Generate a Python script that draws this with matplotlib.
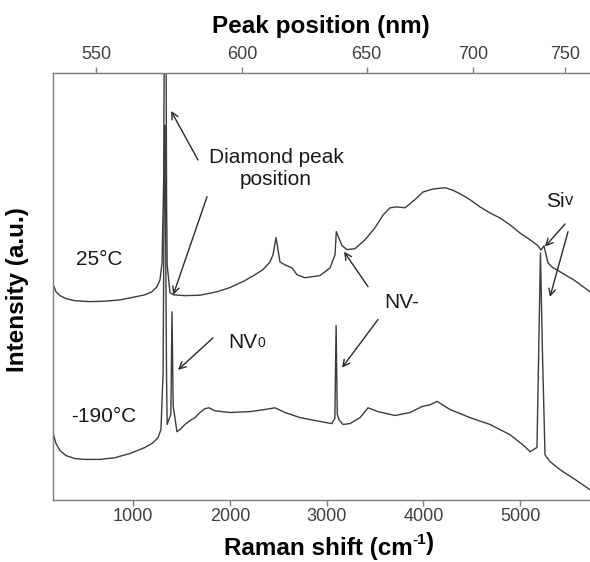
import matplotlib
matplotlib.use("Agg")
import matplotlib.pyplot as plt

plt.rcParams["font.family"] = ["Liberation Sans", "DejaVu Sans"]

LASER_NM = 532.0

# Raman spectrum at 25 °C (shift in cm-1, intensity in a.u.)
shift_25 = [172, 182, 203, 244, 306, 399, 554, 709, 864, 1019, 1123, 1195,
            1247, 1278, 1299, 1316, 1322, 1340, 1346, 1352, 1381, 1415, 1536,
            1691, 1867, 2001, 2136, 2260, 2342, 2415, 2446, 2477, 2518, 2570,
            2642, 2694, 2777, 2931, 3035, 3087, 3100, 3159, 3210, 3293, 3397,
            3500, 3583, 3655, 3727, 3810, 3913, 3996, 4099, 4223, 4296, 4378,
            4482, 4585, 4688, 4792, 4895, 4998, 5102, 5185, 5215, 5246, 5288,
            5330, 5412, 5567, 5722]
int_25 = [50.5, 49.9, 48.7, 47.8, 47.1, 46.6, 46.4, 46.5, 46.8, 47.5, 48.0,
          48.7, 49.9, 51.5, 55.5, 75.0, 110.0, 110.0, 70.0, 55.0, 48.5, 48.0,
          47.8, 47.9, 48.7, 49.7, 51.1, 52.7, 53.9, 55.7, 57.4, 61.4, 55.7,
          55.0, 54.3, 52.7, 52.0, 52.5, 54.3, 57.4, 62.8, 59.5, 58.6, 58.8,
          60.9, 63.7, 66.7, 68.4, 68.6, 68.4, 70.3, 72.1, 72.8, 73.1, 72.6,
          71.7, 70.3, 68.6, 67.2, 66.0, 64.4, 62.5, 60.9, 59.5, 58.5, 59.5,
          55.5, 54.5, 53.4, 51.3, 48.7]

# Raman spectrum at -190 °C
shift_m190 = [172, 182, 203, 244, 306, 399, 503, 658, 813, 968, 1123, 1205,
              1257, 1288, 1310, 1320, 1327, 1334, 1345, 1352, 1390, 1402, 1414,
              1453, 1484, 1536, 1588, 1640, 1691, 1743, 1784, 1846, 2001, 2208,
              2363, 2466, 2570, 2725, 2931, 3055, 3085, 3098, 3110, 3128, 3169,
              3241, 3345, 3428, 3531, 3707, 3862, 3986, 4068, 4141, 4275, 4482,
              4688, 4895, 5050, 5102, 5174, 5192, 5210, 5230, 5257, 5308, 5412,
              5567, 5722]
int_m190 = [15.8, 14.8, 13.1, 11.5, 10.3, 9.6, 9.4, 9.4, 9.8, 10.8, 12.2, 13.3,
            14.5, 16.4, 30.0, 70.0, 87.8, 70.0, 30.0, 17.6, 20.0, 44.0, 22.0,
            15.9, 16.4, 17.6, 18.5, 19.2, 20.4, 21.3, 21.5, 20.8, 20.4, 20.6,
            21.1, 21.5, 20.4, 19.2, 18.3, 17.8, 19.0, 40.8, 20.0, 18.7, 17.6,
            17.8, 19.2, 21.5, 20.6, 19.7, 20.4, 21.8, 22.2, 23.0, 21.1, 19.2,
            17.6, 15.2, 12.4, 11.2, 12.2, 35.0, 57.8, 35.0, 10.5, 8.9, 7.0,
            4.7, 2.3]

shift_ticks = [1000, 2000, 3000, 4000, 5000]
nm_ticks = [550, 600, 650, 700, 750]


def shift_to_nm(s):
    return 1e7 / (1e7 / LASER_NM - s)


def nm_to_shift(nm):
    return 1e7 / LASER_NM - 1e7 / nm


LINE = "#3c3c3c"
SPINE = "#7f7f7f"
TICKTXT = "#404040"

fig = plt.figure(figsize=(5.9, 5.62), dpi=100)
ax = fig.add_axes([53 / 590, 62.5 / 562, 537 / 590, 426.5 / 562])

ax.plot(shift_25, int_25, color=LINE, lw=1.0)
ax.plot(shift_m190, int_m190, color=LINE, lw=1.0)

ax.set_xlim(172, 5722)
ax.set_ylim(0, 100)
ax.set_yticks([])
ax.set_xticks(shift_ticks)
ax.set_xticklabels([str(t) for t in shift_ticks])
ax.tick_params(axis="x", direction="out", length=4, width=1, color=SPINE,
               labelsize=13, labelcolor=TICKTXT, pad=2)
for side in ("left", "bottom", "top"):
    ax.spines[side].set_color(SPINE)
    ax.spines[side].set_linewidth(1.0)
ax.spines["right"].set_visible(False)

# wavelength scale for the 532 nm excitation line
top = ax.secondary_xaxis("top", functions=(shift_to_nm, nm_to_shift))
top.set_xticks(nm_ticks)
top.set_xticklabels([str(t) for t in nm_ticks])
top.tick_params(direction="out", length=4, width=1, color=SPINE,
                labelsize=13, labelcolor=TICKTXT, pad=3)
top.spines["top"].set_color(SPINE)

TITLE = dict(fontsize=17.5, fontweight="bold", color="black")
fig.text(321 / 590, 1 - 27 / 562, "Peak position (nm)", ha="center",
         va="center", **TITLE)
t_x = fig.text(318 / 590, 1 - 548 / 562, "Raman shift (cm", ha="center",
               va="center", **TITLE)
sup = fig.add_artist(plt.Annotation(
    "-1", xy=(1, 0.55), xycoords=t_x, ha="left", va="bottom", fontsize=11,
    fontweight="bold", color="black", annotation_clip=False))
fig.add_artist(plt.Annotation(
    ")", xy=(1, -0.55), xycoords=sup, ha="left", va="bottom",
    annotation_clip=False, **TITLE))
fig.text(18 / 590, 1 - 290 / 562, "Intensity (a.u.)", ha="center",
         va="center", rotation=90, **TITLE)

TXT = dict(fontsize=15, color="#1a1a1a")
ax.text(647, 56.2, "25°C", ha="center", va="center", **TXT)
ax.text(699, 19.4, "-190°C", ha="center", va="center", **TXT)
ax.text(2477, 77.6, "Diamond peak\nposition", ha="center", va="center",
        linespacing=1.25, **TXT)
ax.text(3774, 46.1, "NV-", ha="center", va="center", **TXT)
t_nv = ax.text(1981, 36.8, "NV", ha="left", va="center", **TXT)
ax.annotate("0", xy=(1, 0.12), xycoords=t_nv, ha="left", va="bottom",
            fontsize=10, color="#1a1a1a")
t_si = ax.text(5267, 69.8, "Si", ha="left", va="center", **TXT)
ax.annotate("v", xy=(1, 0.16), xycoords=t_si, ha="left", va="bottom",
            fontsize=12, color="#1a1a1a")

ARROW = dict(arrowstyle="->", color="#2a2a2a", lw=1.0,
             mutation_scale=12, shrinkA=0, shrinkB=0)
arrows = [
    ((1392, 91.1), (1671, 79.6)),
    ((1415, 48.0), (1764, 71.0)),
    ((1464, 30.4), (1826, 37.9)),
    ((3180, 58.1), (3428, 49.9)),
    ((3159, 30.9), (3531, 42.2)),
    ((5257, 59.3), (5464, 64.6)),
    ((5308, 47.5), (5495, 62.8)),
]
for tip, tail in arrows:
    ax.annotate("", xy=tip, xytext=tail, arrowprops=ARROW)

fig.savefig("out.png", dpi=100)
